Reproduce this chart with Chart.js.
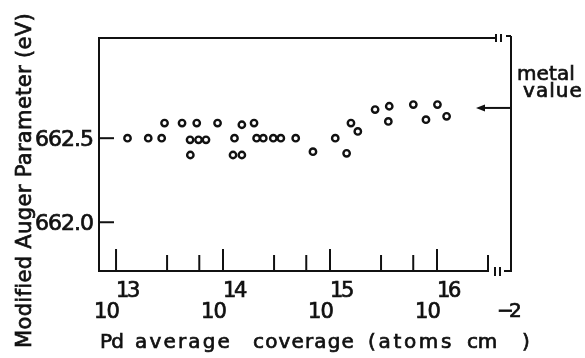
<!DOCTYPE html>
<html>
<head>
<meta charset="utf-8">
<script src="https://cdn.jsdelivr.net/npm/chart.js@4.4.1/dist/chart.umd.min.js"></script>
<style>
  html, body { margin: 0; padding: 0; background: #fff; }
  #wrap { width: 585px; height: 358px; }
</style>
</head>
<body>
<div id="wrap"><canvas id="augerChart" width="585" height="358"></canvas></div>
<script>
// Pd coverage (atoms cm^-2) and modified Auger parameter (eV)
const coverage = [1.28e13, 2.00e13, 2.67e13, 2.84e13, 4.14e13, 5.68e13, 4.92e13, 5.90e13, 6.93e13, 4.95e13,
                  8.89e13, 1.28e14, 1.50e14, 1.95e14, 1.24e14, 1.50e14, 2.06e14, 2.38e14, 2.95e14, 3.47e14,
                  4.78e14, 6.93e14, 1.12e15, 1.43e15, 1.57e15, 1.82e15, 2.64e15, 3.58e15, 3.51e15, 6.01e15,
                  7.89e15, 1.01e16, 1.23e16];
const auger = [662.50, 662.50, 662.50, 662.59, 662.59, 662.59, 662.49, 662.49, 662.49, 662.40,
               662.59, 662.50, 662.58, 662.59, 662.40, 662.40, 662.50, 662.50, 662.50, 662.50,
               662.50, 662.42, 662.50, 662.41, 662.59, 662.54, 662.67, 662.69, 662.60, 662.70,
               662.61, 662.70, 662.63];

const majorTicks = [1e13, 1e14, 1e15, 1e16];
const exponents = ["13", "14", "15", "16"];
const minorTicks = [3e13, 6e13, 3e14, 6e14, 3e15, 6e15, 3e16];
const yTicks = [662.5, 662.0];
const yTickLabels = ["662.5", "662.0"];
const metalValue = 662.68;

const FONT = "'DejaVu Sans', sans-serif";
const INK = "#111";

// x title laid out word by word: [text, left, width]
const xTitleWords = [["Pd", 100, 23], ["average", 135, 97], ["coverage", 253, 102],
                     ["(atoms", 368, 86], ["cm", 467, 30]];

// stretch a string to a given width with letter spacing, a little heavier than plain fill
function fitText(ctx, text, x, y, width) {
    ctx.letterSpacing = "0px";
    const natural = ctx.measureText(text).width;
    ctx.letterSpacing = ((width - natural) / text.length) + "px";
    ctx.fillText(text, x, y);
    ctx.lineWidth = 0.7;
    ctx.strokeText(text, x, y);
    ctx.letterSpacing = "0px";
    ctx.lineWidth = 2;
}

function line(ctx, x1, y1, x2, y2) {
    ctx.beginPath();
    ctx.moveTo(x1, y1);
    ctx.lineTo(x2, y2);
    ctx.stroke();
}

const frame = {
    id: "frame",
    afterDraw(chart) {
        const ctx = chart.ctx;
        const {left, right, top, bottom} = chart.chartArea;
        const xs = chart.scales.x, ys = chart.scales.y;

        ctx.save();
        ctx.strokeStyle = INK;
        ctx.fillStyle = INK;
        ctx.lineWidth = 2;

        // left axis and broken top / bottom lines
        line(ctx, left, top, left, bottom + 1);
        line(ctx, left - 1, bottom, right - 22, bottom);
        line(ctx, right - 16, bottom - 4, right - 16, bottom + 5);
        line(ctx, right - 11, bottom - 4, right - 11, bottom + 5);
        line(ctx, right - 7, bottom, right + 1, bottom);
        line(ctx, left - 1, top, right - 15, top);
        line(ctx, right - 15, top - 4, right - 15, top + 4);
        line(ctx, right - 10, top - 4, right - 10, top + 4);
        line(ctx, right - 5, top - 2, right, top - 2);
        line(ctx, right, top - 2, right, bottom + 1);

        // x ticks, drawn inward
        majorTicks.forEach(v => {
            const px = xs.getPixelForValue(v);
            line(ctx, px, bottom, px, bottom - 22);
        });
        minorTicks.forEach(v => {
            const px = xs.getPixelForValue(v);
            line(ctx, px, bottom, px, bottom - 16);
        });

        // y ticks
        yTicks.forEach(v => {
            const py = ys.getPixelForValue(v);
            line(ctx, left, py, left + 15, py);
        });

        // y tick labels
        ctx.textAlign = "left";
        ctx.textBaseline = "alphabetic";
        ctx.font = "22px " + FONT;
        yTicks.forEach((v, i) => {
            const py = ys.getPixelForValue(v);
            fitText(ctx, yTickLabels[i], 35, py + 8, 58);
        });

        // x tick labels: 10 with raised exponent
        ctx.font = "21px " + FONT;
        majorTicks.forEach((v, i) => {
            const px = xs.getPixelForValue(v);
            fitText(ctx, "10", px - 22, 318, 25);
            fitText(ctx, exponents[i], px, 297, 22);
        });

        // axis titles
        ctx.font = "20px " + FONT;
        xTitleWords.forEach(w => fitText(ctx, w[0], w[1], 348, w[2]));
        fitText(ctx, "\u22122", 497, 317, 20);
        fitText(ctx, ")", 522, 348, 8);

        ctx.save();
        ctx.translate(31, 348);
        ctx.rotate(-Math.PI / 2);
        ctx.font = "21px " + FONT;
        fitText(ctx, "Modified Auger Parameter (eV)", 0, 0, 335);
        ctx.restore();

        // metal value arrow
        const my = ys.getPixelForValue(metalValue);
        line(ctx, right, my, right - 30, my);
        ctx.beginPath();
        ctx.moveTo(right - 35, my);
        ctx.lineTo(right - 26, my - 3.5);
        ctx.lineTo(right - 26, my + 3.5);
        ctx.closePath();
        ctx.fill();

        ctx.font = "20px " + FONT;
        fitText(ctx, "metal", right + 6, 80, 58);
        fitText(ctx, "value", right + 12, 97, 60);

        ctx.restore();
    }
};

const ctx = document.getElementById("augerChart");
const chart = new Chart(ctx, {
    type: "scatter",
    data: {
        datasets: [{
            data: coverage.map((c, i) => ({x: c, y: auger[i]})),
            pointStyle: "circle",
            pointRadius: 3.2,
            pointBorderWidth: 2.4,
            pointBackgroundColor: "#fff",
            pointBorderColor: INK
        }]
    },
    options: {
        responsive: false,
        animation: false,
        layout: {padding: {left: 99, top: 38, right: 74, bottom: 87}},
        plugins: {legend: {display: false}, tooltip: {enabled: false}},
        scales: {
            x: {type: "logarithmic", min: 6.93e12, max: 4.92e16, display: false},
            y: {type: "linear", min: 661.71, max: 663.096, display: false}
        }
    },
    plugins: [frame]
});
</script>
</body>
</html>
